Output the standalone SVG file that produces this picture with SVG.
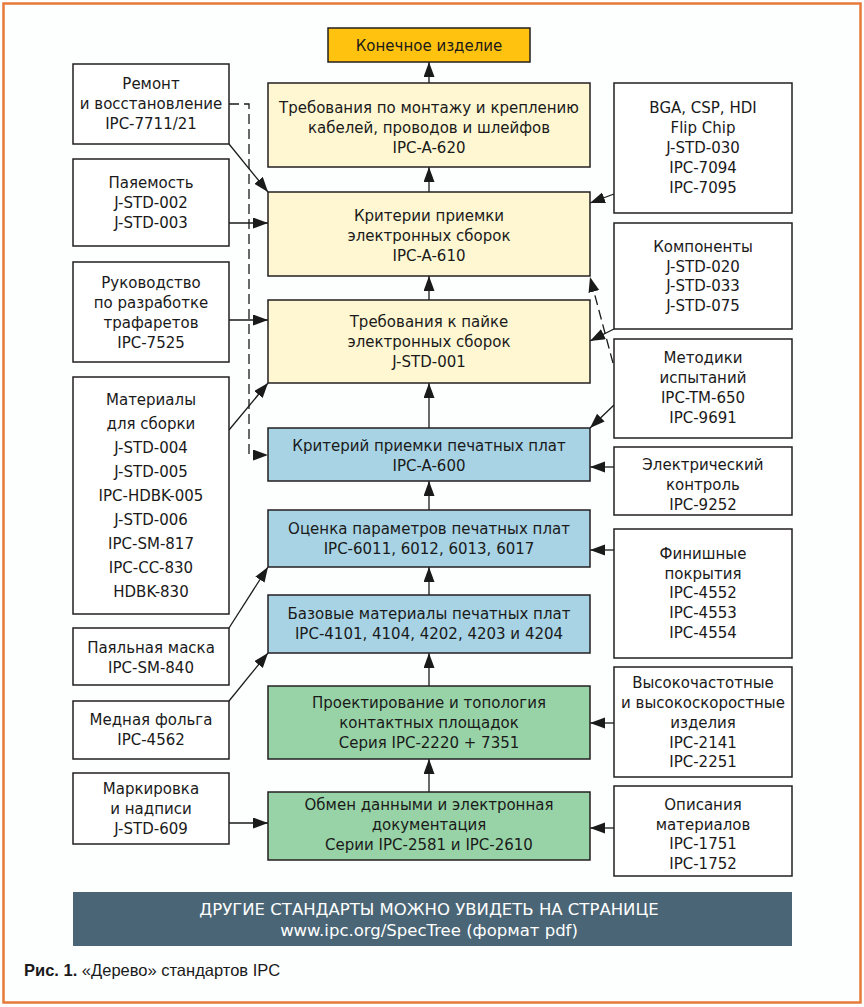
<svg xmlns="http://www.w3.org/2000/svg" width="864" height="1007" viewBox="0 0 864 1007">
<style>
.box{stroke:#231f20;stroke-width:1.5}
.w{fill:#ffffff}
.y{fill:#fef7d2}
.b{fill:#a7d3e4}
.g{fill:#98d3a7}
.t{font-family:"DejaVu Sans","Liberation Sans",sans-serif;font-size:15px;fill:#1a1a1a;text-anchor:middle}
.ln{stroke:#1a1a1a;stroke-width:1.3;fill:none;marker-end:url(#ah)}
.d{stroke-dasharray:10,5}
.ban{font-family:"DejaVu Sans","Liberation Sans",sans-serif;font-size:16.5px;fill:#ffffff;text-anchor:middle}
.cap{font-family:"Liberation Sans",sans-serif;font-size:16.5px;fill:#1a1a1a}
</style>
<defs>
<marker id="ah" markerUnits="userSpaceOnUse" markerWidth="16" markerHeight="12" refX="15" refY="5.5" orient="auto">
<path d="M0,0 L15,5.5 L0,11 z" fill="#1a1a1a"/>
</marker>
</defs>
<rect x="0" y="0" width="864" height="1007" fill="#ffffff"/>
<rect x="3.5" y="3.5" width="857" height="999" fill="#fdfefe" stroke="#e77a3a" stroke-width="2.5"/>

<g id="connectors">
<path class="ln" d="M429,83 V62"/>
<path class="ln" d="M429,192 V167"/>
<path class="ln" d="M429,300 V276"/>
<path class="ln" d="M429,428 V383"/>
<path class="ln" d="M429,510 V481"/>
<path class="ln" d="M429,595 V567"/>
<path class="ln" d="M429,686 V653"/>
<path class="ln" d="M429,792 V759"/>
<path class="ln" d="M229,144 L268,192"/>
<path class="ln d" d="M229,104 H249 V455 H268"/>
<path class="ln" d="M229,223 H268"/>
<path class="ln" d="M229,320 H268"/>
<path class="ln" d="M229,430 L268,383"/>
<path class="ln" d="M229,628 L268,567"/>
<path class="ln" d="M229,701 L268,653"/>
<path class="ln" d="M229,823 H268"/>
<path class="ln" d="M614,194 L590,203"/>
<path class="ln" d="M614,329 L590,341"/>
<path class="ln d" d="M613,363 L590,277"/>
<path class="ln" d="M614,405 L590,428"/>
<path class="ln" d="M614,467 H590"/>
<path class="ln" d="M614,550 H590"/>
<path class="ln" d="M614,723 H590"/>
<path class="ln" d="M614,828 H590"/>
</g>

<g id="final">
<rect class="box" x="328" y="28" width="202" height="34" fill="#ffc20f"/>
<text class="t" x="429" y="51">Конечное изделие</text>
</g>

<g id="c1">
<rect class="box y" x="268" y="83" width="322" height="84"/>
<text class="t" x="429" y="113">Требования по монтажу и креплению</text>
<text class="t" x="429" y="133">кабелей, проводов и шлейфов</text>
<text class="t" x="429" y="153">IPC-A-620</text>
</g>
<g id="c2">
<rect class="box y" x="268" y="192" width="322" height="84"/>
<text class="t" x="429" y="221">Критерии приемки</text>
<text class="t" x="429" y="241">электронных сборок</text>
<text class="t" x="429" y="261">IPC-A-610</text>
</g>
<g id="c3">
<rect class="box y" x="268" y="300" width="322" height="83"/>
<text class="t" x="429" y="327">Требования к пайке</text>
<text class="t" x="429" y="347">электронных сборок</text>
<text class="t" x="429" y="367">J-STD-001</text>
</g>
<g id="c4">
<rect class="box b" x="268" y="428" width="322" height="53"/>
<text class="t" x="429" y="451">Критерий приемки печатных плат</text>
<text class="t" x="429" y="471">IPC-A-600</text>
</g>
<g id="c5">
<rect class="box b" x="268" y="510" width="322" height="57"/>
<text class="t" x="429" y="534">Оценка параметров печатных плат</text>
<text class="t" x="429" y="554">IPC-6011, 6012, 6013, 6017</text>
</g>
<g id="c6">
<rect class="box b" x="268" y="595" width="322" height="58"/>
<text class="t" x="429" y="619">Базовые материалы печатных плат</text>
<text class="t" x="429" y="639">IPC-4101, 4104, 4202, 4203 и 4204</text>
</g>
<g id="c7">
<rect class="box g" x="268" y="686" width="322" height="73"/>
<text class="t" x="429" y="708">Проектирование и топология</text>
<text class="t" x="429" y="728">контактных площадок</text>
<text class="t" x="429" y="748">Серия IPC-2220 + 7351</text>
</g>
<g id="c8">
<rect class="box g" x="268" y="792" width="322" height="68"/>
<text class="t" x="429" y="810">Обмен данными и электронная</text>
<text class="t" x="429" y="830">документация</text>
<text class="t" x="429" y="850">Серии IPC-2581 и IPC-2610</text>
</g>

<g id="l1">
<rect class="box w" x="73" y="64" width="156" height="80"/>
<text class="t" x="151" y="89">Ремонт</text>
<text class="t" x="151" y="109">и восстановление</text>
<text class="t" x="151" y="129">IPC-7711/21</text>
</g>
<g id="l2">
<rect class="box w" x="73" y="159" width="156" height="87"/>
<text class="t" x="151" y="188">Паяемость</text>
<text class="t" x="151" y="208">J-STD-002</text>
<text class="t" x="151" y="228">J-STD-003</text>
</g>
<g id="l3">
<rect class="box w" x="73" y="262" width="156" height="100"/>
<text class="t" x="151" y="288">Руководство</text>
<text class="t" x="151" y="308">по разработке</text>
<text class="t" x="151" y="328">трафаретов</text>
<text class="t" x="151" y="348">IPC-7525</text>
</g>
<g id="l4">
<rect class="box w" x="73" y="377" width="156" height="237"/>
<text class="t" x="151" y="405">Материалы</text>
<text class="t" x="151" y="429">для сборки</text>
<text class="t" x="151" y="453">J-STD-004</text>
<text class="t" x="151" y="477">J-STD-005</text>
<text class="t" x="151" y="501">IPC-HDBK-005</text>
<text class="t" x="151" y="525">J-STD-006</text>
<text class="t" x="151" y="549">IPC-SM-817</text>
<text class="t" x="151" y="573">IPC-CC-830</text>
<text class="t" x="151" y="597">HDBK-830</text>
</g>
<g id="l5">
<rect class="box w" x="73" y="628" width="156" height="57"/>
<text class="t" x="151" y="653">Паяльная маска</text>
<text class="t" x="151" y="673">IPC-SM-840</text>
</g>
<g id="l6">
<rect class="box w" x="73" y="701" width="156" height="58"/>
<text class="t" x="151" y="725">Медная фольга</text>
<text class="t" x="151" y="745">IPC-4562</text>
</g>
<g id="l7">
<rect class="box w" x="73" y="773" width="156" height="71"/>
<text class="t" x="151" y="794">Маркировка</text>
<text class="t" x="151" y="814">и надписи</text>
<text class="t" x="151" y="834">J-STD-609</text>
</g>

<g id="r1">
<rect class="box w" x="614" y="83" width="178" height="130"/>
<text class="t" x="703" y="113">BGA, CSP, HDI</text>
<text class="t" x="703" y="133">Flip Chip</text>
<text class="t" x="703" y="153">J-STD-030</text>
<text class="t" x="703" y="173">IPC-7094</text>
<text class="t" x="703" y="193">IPC-7095</text>
</g>
<g id="r2">
<rect class="box w" x="614" y="223" width="178" height="106"/>
<text class="t" x="703" y="252">Компоненты</text>
<text class="t" x="703" y="272">J-STD-020</text>
<text class="t" x="703" y="291">J-STD-033</text>
<text class="t" x="703" y="311">J-STD-075</text>
</g>
<g id="r3">
<rect class="box w" x="614" y="339" width="178" height="99"/>
<text class="t" x="703" y="363">Методики</text>
<text class="t" x="703" y="383">испытаний</text>
<text class="t" x="703" y="403">IPC-TM-650</text>
<text class="t" x="703" y="423">IPC-9691</text>
</g>
<g id="r4">
<rect class="box w" x="614" y="447" width="178" height="68"/>
<text class="t" x="703" y="470">Электрический</text>
<text class="t" x="703" y="490">контроль</text>
<text class="t" x="703" y="510">IPC-9252</text>
</g>
<g id="r5">
<rect class="box w" x="614" y="529" width="178" height="129"/>
<text class="t" x="703" y="559">Финишные</text>
<text class="t" x="703" y="579">покрытия</text>
<text class="t" x="703" y="598">IPC-4552</text>
<text class="t" x="703" y="618">IPC-4553</text>
<text class="t" x="703" y="638">IPC-4554</text>
</g>
<g id="r6">
<rect class="box w" x="614" y="667" width="178" height="110"/>
<text class="t" x="703" y="688">Высокочастотные</text>
<text class="t" x="703" y="708">и высокоскоростные</text>
<text class="t" x="703" y="728">изделия</text>
<text class="t" x="703" y="748">IPC-2141</text>
<text class="t" x="703" y="767">IPC-2251</text>
</g>
<g id="r7">
<rect class="box w" x="614" y="786" width="178" height="90"/>
<text class="t" x="703" y="810">Описания</text>
<text class="t" x="703" y="830">материалов</text>
<text class="t" x="703" y="849">IPC-1751</text>
<text class="t" x="703" y="869">IPC-1752</text>
</g>

<g id="banner">
<rect x="73" y="892" width="719" height="54" fill="#4a6676"/>
<text class="ban" x="429" y="915">ДРУГИЕ СТАНДАРТЫ МОЖНО УВИДЕТЬ НА СТРАНИЦЕ</text>
<text class="ban" x="429" y="936">www.ipc.org/SpecTree (формат pdf)</text>
</g>
<text class="cap" x="24" y="976"><tspan font-weight="bold">Рис. 1.</tspan> «Дерево» стандартов IPC</text>
</svg>
